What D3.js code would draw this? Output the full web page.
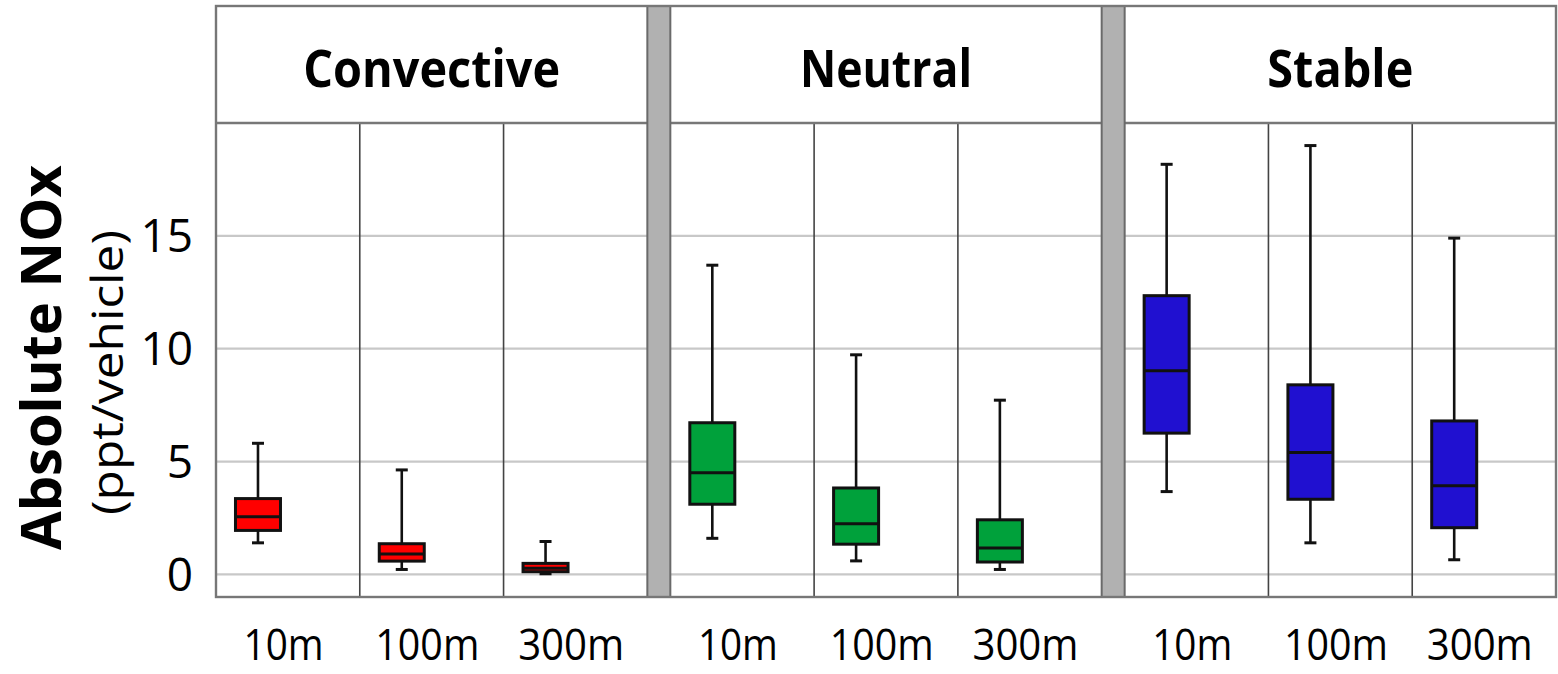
<!DOCTYPE html>
<html>
<head>
<meta charset="utf-8">
<script src="https://cdn.jsdelivr.net/npm/d3@7"></script>
<style>
  html, body { margin: 0; padding: 0; background: #ffffff; }
  svg { display: block; }
  text { font-family: "Open Sans", "Noto Sans", "DejaVu Sans", sans-serif; fill: #000; }
</style>
</head>
<body>
<svg id="chart" width="1558" height="674"></svg>
<script>
// Atmospheric stability classes (panels) and downwind distances (columns)
const stabilityClasses = ["Convective", "Neutral", "Stable"];
const distances = ["10m", "100m", "300m"];

// Box-plot statistics, one row per stability class, one entry per distance
const whiskerLow  = [[1.40, 0.22, 0.03], [1.60, 0.60, 0.22], [3.67, 1.40, 0.65]];
const quartile1   = [[1.95, 0.59, 0.12], [3.11, 1.34, 0.55], [6.26, 3.33, 2.07]];
const medians     = [[2.56, 0.90, 0.27], [4.51, 2.25, 1.17], [9.02, 5.40, 3.93]];
const quartile3   = [[3.36, 1.36, 0.49], [6.72, 3.83, 2.42], [12.35, 8.40, 6.80]];
const whiskerHigh = [[5.81, 4.63, 1.46], [13.70, 9.73, 7.72], [18.17, 19.00, 14.90]];

const yTicks = [0, 5, 10, 15];
const classColors = ["#ff0000", "#00a13b", "#2010d0"];

// Layout
const svg = d3.select("#chart");
const left = 216, right = 1556;
const frameTop = 6, headerBottom = 123, plotBottom = 597;

const xPanel = d3.scaleBand()
  .domain(stabilityClasses)
  .range([left, right])
  .paddingInner(0.0506)
  .paddingOuter(0);

const xCol = d3.scaleBand()
  .domain(distances)
  .range([0, xPanel.bandwidth()])
  .padding(0);

const y = d3.scaleLinear().domain([-1, 20]).range([plotBottom, headerBottom]);

const boxWidth = 45, capWidth = 12;
const boxOffset = 0.292;   // box centre as a fraction of the column width
const labelOffset = 0.47;  // distance label centre as a fraction of the column width

// Panels
stabilityClasses.forEach((cls, i) => {
  const px = xPanel(cls);
  const pw = xPanel.bandwidth();
  const g = svg.append("g").attr("transform", `translate(${px},0)`);

  // header box
  g.append("rect")
    .attr("x", 0).attr("y", frameTop)
    .attr("width", pw).attr("height", headerBottom - frameTop)
    .attr("fill", "#fff");

  // gridlines
  g.selectAll("line.grid").data(yTicks).join("line")
    .attr("class", "grid")
    .attr("x1", 0).attr("x2", pw)
    .attr("y1", d => y(d)).attr("y2", d => y(d))
    .attr("stroke", "#c8c8c8").attr("stroke-width", 2.2);

  // column dividers
  distances.slice(1).forEach(d => {
    g.append("line")
      .attr("x1", xCol(d)).attr("x2", xCol(d))
      .attr("y1", headerBottom).attr("y2", plotBottom)
      .attr("stroke", "#444").attr("stroke-width", 1.6);
  });

  // header divider line
  g.append("line")
    .attr("x1", 0).attr("x2", pw)
    .attr("y1", headerBottom).attr("y2", headerBottom)
    .attr("stroke", "#777").attr("stroke-width", 2.4);

  // header title
  const titleWidths = { "Convective": 257, "Neutral": 172, "Stable": 146 };
  g.append("text")
    .attr("x", pw / 2).attr("y", 87)
    .attr("text-anchor", "middle")
    .attr("font-size", 52).attr("font-weight", 700)
    .attr("textLength", titleWidths[cls])
    .attr("lengthAdjust", "spacingAndGlyphs")
    .text(cls);

  // boxes
  distances.forEach((d, j) => {
    const cx = xCol(d) + xCol.bandwidth() * boxOffset;
    const bg = g.append("g");
    // whisker stem
    bg.append("line")
      .attr("x1", cx).attr("x2", cx)
      .attr("y1", y(whiskerHigh[i][j])).attr("y2", y(whiskerLow[i][j]))
      .attr("stroke", "#111").attr("stroke-width", 2.6);
    // caps
    [whiskerHigh[i][j], whiskerLow[i][j]].forEach(v => {
      bg.append("line")
        .attr("x1", cx - capWidth / 2).attr("x2", cx + capWidth / 2)
        .attr("y1", y(v)).attr("y2", y(v))
        .attr("stroke", "#111").attr("stroke-width", 3);
    });
    // IQR box
    bg.append("rect")
      .attr("x", cx - boxWidth / 2)
      .attr("y", y(quartile3[i][j]))
      .attr("width", boxWidth)
      .attr("height", y(quartile1[i][j]) - y(quartile3[i][j]))
      .attr("fill", classColors[i])
      .attr("stroke", "#111").attr("stroke-width", 3);
    // median
    bg.append("line")
      .attr("x1", cx - boxWidth / 2).attr("x2", cx + boxWidth / 2)
      .attr("y1", y(medians[i][j])).attr("y2", y(medians[i][j]))
      .attr("stroke", "#111").attr("stroke-width", 3);
  });

  // distance labels
  const labelWidths = { "10m": 80, "100m": 104, "300m": 106 };
  g.selectAll("text.dist").data(distances).join("text")
    .attr("class", "dist")
    .attr("x", d => xCol(d) + xCol.bandwidth() * labelOffset)
    .attr("y", 660)
    .attr("text-anchor", "middle")
    .attr("font-size", 44)
    .attr("textLength", d => labelWidths[d])
    .attr("lengthAdjust", "spacingAndGlyphs")
    .text(d => d);
});

// Grey separators between panels
stabilityClasses.slice(1).forEach(cls => {
  const sx1 = xPanel(cls) - xPanel.step() * xPanel.paddingInner();
  const sx2 = xPanel(cls);
  svg.append("rect")
    .attr("x", sx1).attr("y", frameTop)
    .attr("width", sx2 - sx1).attr("height", plotBottom - frameTop)
    .attr("fill", "#b1b1b1")
    .attr("stroke", "#6a6a6a").attr("stroke-width", 2);
});

// Outer frame
svg.append("rect")
  .attr("x", left).attr("y", frameTop)
  .attr("width", right - left).attr("height", plotBottom - frameTop)
  .attr("fill", "none")
  .attr("stroke", "#777").attr("stroke-width", 2.4);

// Y tick labels
svg.selectAll("text.ytick").data(yTicks).join("text")
  .attr("class", "ytick")
  .attr("x", 193)
  .attr("y", d => y(d))
  .attr("dy", "0.36em")
  .attr("text-anchor", "end")
  .attr("font-size", 46)
  .text(d => d);

// Y axis title
svg.append("text")
  .attr("transform", "translate(61,357.5) rotate(-90)")
  .attr("text-anchor", "middle")
  .attr("font-size", 56).attr("font-weight", 700)
  .attr("textLength", 385)
  .attr("lengthAdjust", "spacingAndGlyphs")
  .text("Absolute NOx");

svg.append("text")
  .attr("transform", "translate(123,372.5) rotate(-90)")
  .attr("text-anchor", "middle")
  .attr("font-size", 44)
  .attr("textLength", 285)
  .attr("lengthAdjust", "spacingAndGlyphs")
  .text("(ppt/vehicle)");
</script>
</body>
</html>
